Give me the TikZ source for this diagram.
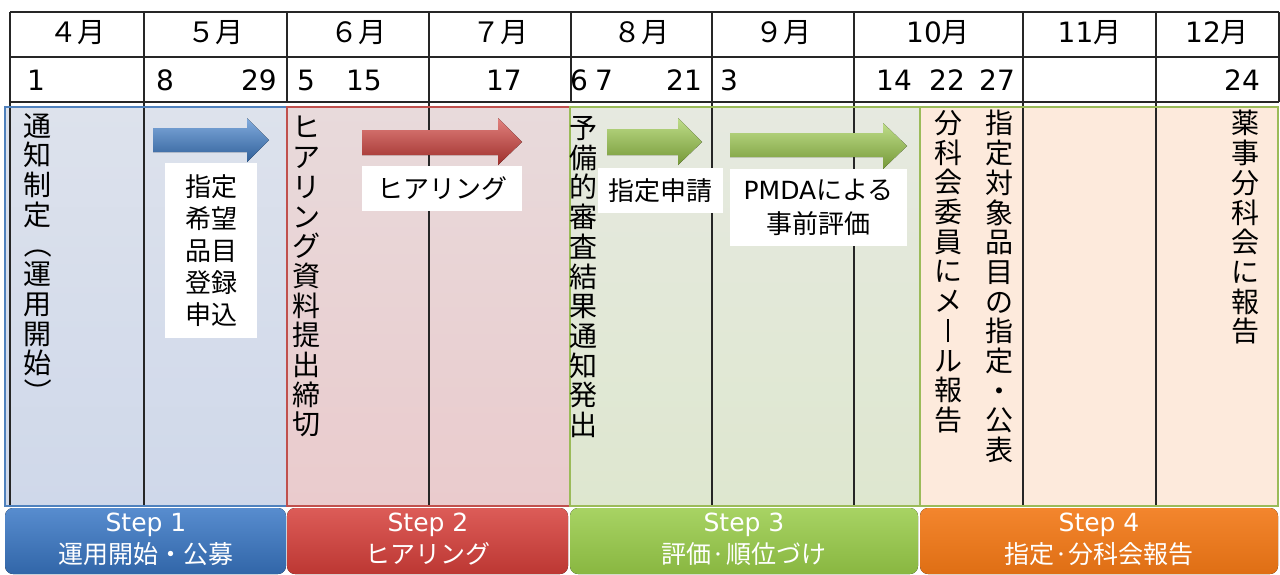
\documentclass[tikz,border=0pt]{standalone}
\usepackage{fontspec}
\setmainfont{DejaVu Sans}
\newfontfamily\jp{Noto Sans CJK JP}
\definecolor{oBlue}{HTML}{4F81BD}
\definecolor{oRed}{HTML}{C0504D}
\definecolor{oGreen}{HTML}{9BBB59}
\definecolor{sOneT}{HTML}{DDE2EC}
\definecolor{sOneB}{HTML}{CFD8EA}
\definecolor{sTwoT}{HTML}{E8DADB}
\definecolor{sTwoB}{HTML}{EACBCD}
\definecolor{sThrT}{HTML}{E6E9E0}
\definecolor{sThrB}{HTML}{DEE7CF}
\definecolor{sFour}{HTML}{FDEADC}
\definecolor{arBlue}{HTML}{3F7FCC}
\definecolor{arRed}{HTML}{D23E39}
\definecolor{arGreen}{HTML}{9CCB4A}
\definecolor{barBlue}{HTML}{3A78C6}
\definecolor{barRed}{HTML}{D63F3A}
\definecolor{barGreen}{HTML}{98CB48}
\definecolor{barOrange}{HTML}{F27816}
\begin{document}
\begin{tikzpicture}[x=0.5pt,y=-0.5pt,
  gridline/.style={line width=0.8pt, black!85},
  regionline/.style={line width=1pt},
  mon/.style={font=\fontsize{14}{16}\selectfont\jp, inner sep=0},
  day/.style={font=\fontsize{14}{16}\selectfont, inner sep=0},
  vt/.style={font=\fontsize{14}{14.85}\selectfont\jp, align=center, inner sep=0, anchor=north},
  lbl/.style={fill=white, inner sep=0, font=\fontsize{13}{16}\selectfont\jp, align=center},
  bar/.style={rounded corners=4pt},
  bartxt/.style={text=white, align=center, inner sep=0, font=\fontsize{12.5}{16}\selectfont},
  arrowshade/.style={top color=#1!65!white, middle color=#1, bottom color=#1!75!black}
]
\useasboundingbox (0,0) rectangle (1280,574);
% region fills
\fill[top color=sOneT,bottom color=sOneB] (5,107) rectangle (287,506);
\fill[top color=sTwoT,bottom color=sTwoB] (287,107) rectangle (570,506);
\fill[top color=sThrT,bottom color=sThrB] (570,107) rectangle (920,506);
\fill[sFour] (920,107) rectangle (1278,506);
% table grid
\foreach \x in {10,144,429,712,854,1023,1156}
  \draw[gridline] (\x,12) -- (\x,506);
\foreach \x in {287,571,1279}
  \draw[gridline] (\x,12) -- (\x,102);
\foreach \y in {12,57,102}
  \draw[gridline] (10,\y) -- (1279,\y);
% region outlines
\draw[regionline, oBlue] (5,107) rectangle (287,506);
\draw[regionline, oRed] (287,107) rectangle (570,506);
\draw[regionline, oGreen] (570,107) rectangle (920,506);
\draw[regionline, oGreen] (920,107) rectangle (1278,506);
% months
\node[mon] (m4) at (77,33) {４月};
\node[mon] (m5) at (215.5,33) {５月};
\node[mon] (m6) at (358,33) {６月};
\node[mon] (m7) at (500,33) {７月};
\node[mon] (m8) at (641.5,33) {８月};
\node[mon] (m9) at (783,33) {９月};
\node[mon] (m10) at (938,33) {{\fontspec{DejaVu Sans}10}月};
\node[mon] (m11) at (1089.5,33) {{\fontspec{DejaVu Sans}11}月};
\node[mon] (m12) at (1217,33) {{\fontspec{DejaVu Sans}12}月};
% days
\node[day] (d1) at (36,80) {1};
\node[day] (d8) at (165,80) {8};
\node[day] (d29) at (259,80) {29};
\node[day] (d5) at (306,80) {5};
\node[day] (d15) at (364,80) {15};
\node[day] (d17) at (504,80) {17};
\node[day] (d6) at (579,80) {6};
\node[day] (d7) at (604,80) {7};
\node[day] (d21) at (684,80) {21};
\node[day] (d3) at (729,80) {3};
\node[day] (d14) at (894,80) {14};
\node[day] (d22) at (947,80) {22};
\node[day] (d27) at (997,80) {27};
\node[day] (d24) at (1242,80) {24};
% arrows
\fill[arrowshade=arBlue] (153,128) -- (247,128) -- (247,118) -- (269,140) -- (247,162) -- (247,152) -- (153,152) -- cycle;
\fill[arrowshade=arRed] (362,130) -- (498,130) -- (498,118) -- (522,142) -- (498,165) -- (498,155) -- (362,155) -- cycle;
\fill[arrowshade=arGreen] (607,129) -- (678,129) -- (678,118) -- (702,142) -- (678,165) -- (678,155) -- (607,155) -- cycle;
\fill[arrowshade=arGreen] (730,133) -- (883,133) -- (883,123) -- (907,146) -- (883,169) -- (883,157) -- (730,157) -- cycle;
% label boxes
\node[lbl, minimum width=46pt, minimum height=87.5pt] (l1) at (211,250.5) {指定\\希望\\品目\\登録\\申込};
\node[lbl, minimum width=80pt, minimum height=22.5pt] (l2) at (442,188.5) {ヒアリング};
\node[lbl, minimum width=62.5pt, minimum height=22.5pt] (l3) at (660.5,190.5) {指定申請};
\node[lbl, minimum width=88.5pt, minimum height=38.5pt, font=\fontsize{13}{17}\selectfont\jp] (l4) at (818.5,207.5) {{\fontspec{DejaVu Sans}\fontsize{12.5}{17}\selectfont PMDA}による\\事前評価};
% vertical texts
\node[vt] (v1) at (38,113) {通\\知\\制\\定\\\rotatebox[origin=c]{-90}{（}\\運\\用\\開\\始\\\rotatebox[origin=c]{-90}{）}};
\node[vt] (v2) at (306,116) {ヒ\\ア\\リ\\ン\\グ\\資\\料\\提\\出\\締\\切};
\node[vt] (v3) at (583,116) {予\\備\\的\\審\\査\\結\\果\\通\\知\\発\\出};
\node[vt] (v4) at (948,110) {分\\科\\会\\委\\員\\に\\メ\\\rule[-0.04em]{0.07em}{0.84em}\\ル\\報\\告};
\node[vt] (v5) at (999,110) {指\\定\\対\\象\\品\\目\\の\\指\\定\\・\\公\\表};
\node[vt] (v6) at (1245,110) {薬\\事\\分\\科\\会\\に\\報\\告};
% step bars
\fill[bar, top color=barBlue!85!white, bottom color=barBlue!85!black] (5,508) rectangle (286,574);
\fill[bar, top color=barRed!85!white, bottom color=barRed!88!black] (287,508) rectangle (568,574);
\fill[bar, top color=barGreen!85!white, bottom color=barGreen!90!black] (570,508) rectangle (918,574);
\fill[bar, top color=barOrange!90!white, bottom color=barOrange!92!black] (920,508) rectangle (1278,574);
\node[bartxt] (b1) at (146,539) {Step 1\\{\jp\fontsize{12.5}{16}\selectfont 運用開始・公募}};
\node[bartxt] (b2) at (428,539) {Step 2\\{\jp\fontsize{12.5}{16}\selectfont ヒアリング}};
\node[bartxt] (b3) at (744,539) {Step 3\\{\jp\fontsize{12.5}{16}\selectfont 評価·順位づけ}};
\node[bartxt] (b4) at (1099,539) {Step 4\\{\jp\fontsize{12.5}{16}\selectfont 指定·分科会報告}};
\end{tikzpicture}
\end{document}
